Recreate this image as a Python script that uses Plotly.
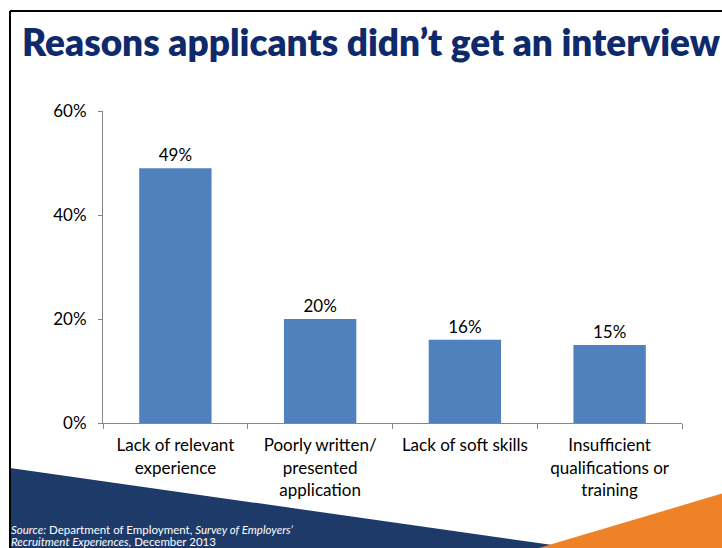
import plotly.graph_objects as go

# Survey results
categories = [
    "Lack of relevant<br>experience",
    "Poorly written/<br>presented<br>application",
    "Lack of soft skills",
    "Insufficient<br>qualifications or<br>training",
]
shares = [49, 20, 16, 15]
tick_values = [0, 20, 40, 60]
tick_labels = ["0%", "20%", "40%", "60%"]

W, H = 722, 548
PL, PR, PT, PB = 103, 682, 111, 423  # plot area in pixels


def px(x):
    return (x - PL) / (PR - PL)


def py(y):
    return (PB - y) / (PB - PT)


FONT = "Lato"
NAVY = "#1E3A68"
ORANGE = "#EF8226"

fig = go.Figure(
    go.Bar(
        x=categories,
        y=shares,
        marker=dict(color="#4F81BD", line=dict(width=0)),
        width=0.5,
        text=[f"{v}%" for v in shares],
        textposition="outside",
        textfont=dict(family=FONT, size=17, color="#000000"),
        cliponaxis=False,
    )
)

shapes = [
    # dark navy wedge at lower left
    dict(
        type="path",
        xref="paper", yref="paper",
        path=f"M {px(10)} {py(468)} L {px(588)} {py(550)} L {px(10)} {py(550)} Z",
        fillcolor=NAVY, line=dict(width=0), layer="below",
    ),
    # orange wedge at lower right
    dict(
        type="path",
        xref="paper", yref="paper",
        path=f"M {px(532)} {py(550)} L {px(724)} {py(493)} L {px(724)} {py(550)} Z",
        fillcolor=ORANGE, line=dict(width=0), layer="below",
    ),
    # slide frame
    dict(type="line", xref="paper", yref="paper",
         x0=px(10), y0=py(11), x1=px(10), y1=py(550),
         line=dict(color="#000000", width=2)),
    dict(type="line", xref="paper", yref="paper",
         x0=px(10), y0=py(11), x1=px(724), y1=py(11),
         line=dict(color="#000000", width=2)),
]

annotations = [
    dict(
        text="Reasons applicants didn’t get an interview",
        xref="paper", yref="paper", x=px(20), y=py(42),
        xanchor="left", yanchor="middle", showarrow=False,
        font=dict(family=FONT, size=37, weight=800, color="#0F2A6B"),
    ),
    dict(
        text="<i>Source:</i> Department of Employment, <i>Survey of Employers’</i>",
        xref="paper", yref="paper", x=px(9), y=py(529),
        xanchor="left", yanchor="middle", align="left", showarrow=False,
        font=dict(family=FONT, size=11.5, color="#FFFFFF"),
    ),
    dict(
        text="<i>Recruitment Experiences,</i> December 2013",
        xref="paper", yref="paper", x=px(9), y=py(541),
        xanchor="left", yanchor="middle", align="left", showarrow=False,
        font=dict(family=FONT, size=11.5, color="#FFFFFF"),
    ),
]

fig.update_layout(
    width=W, height=H,
    margin=dict(l=PL, r=W - PR, t=PT, b=H - PB),
    paper_bgcolor="#FFFFFF",
    plot_bgcolor="#FFFFFF",
    showlegend=False,
    shapes=shapes,
    annotations=annotations,
    bargap=0.5,
    font=dict(family=FONT, color="#000000"),
)

fig.update_xaxes(
    showline=True, linecolor="#868686", linewidth=1,
    ticks="outside", tickson="boundaries", ticklen=5, tickcolor="#868686",
    tickfont=dict(family=FONT, size=17, color="#000000"),
    ticklabelstandoff=7,
    tickangle=0, showgrid=False,
)
fig.update_yaxes(
    range=[0, 60], tickvals=tick_values, ticktext=tick_labels,
    showline=True, linecolor="#868686", linewidth=1,
    ticks="outside", ticklen=4, tickcolor="#868686",
    tickfont=dict(family=FONT, size=17, color="#000000"),
    ticklabelstandoff=8,
    showgrid=False, zeroline=False,
)

fig.write_html("out.html")
